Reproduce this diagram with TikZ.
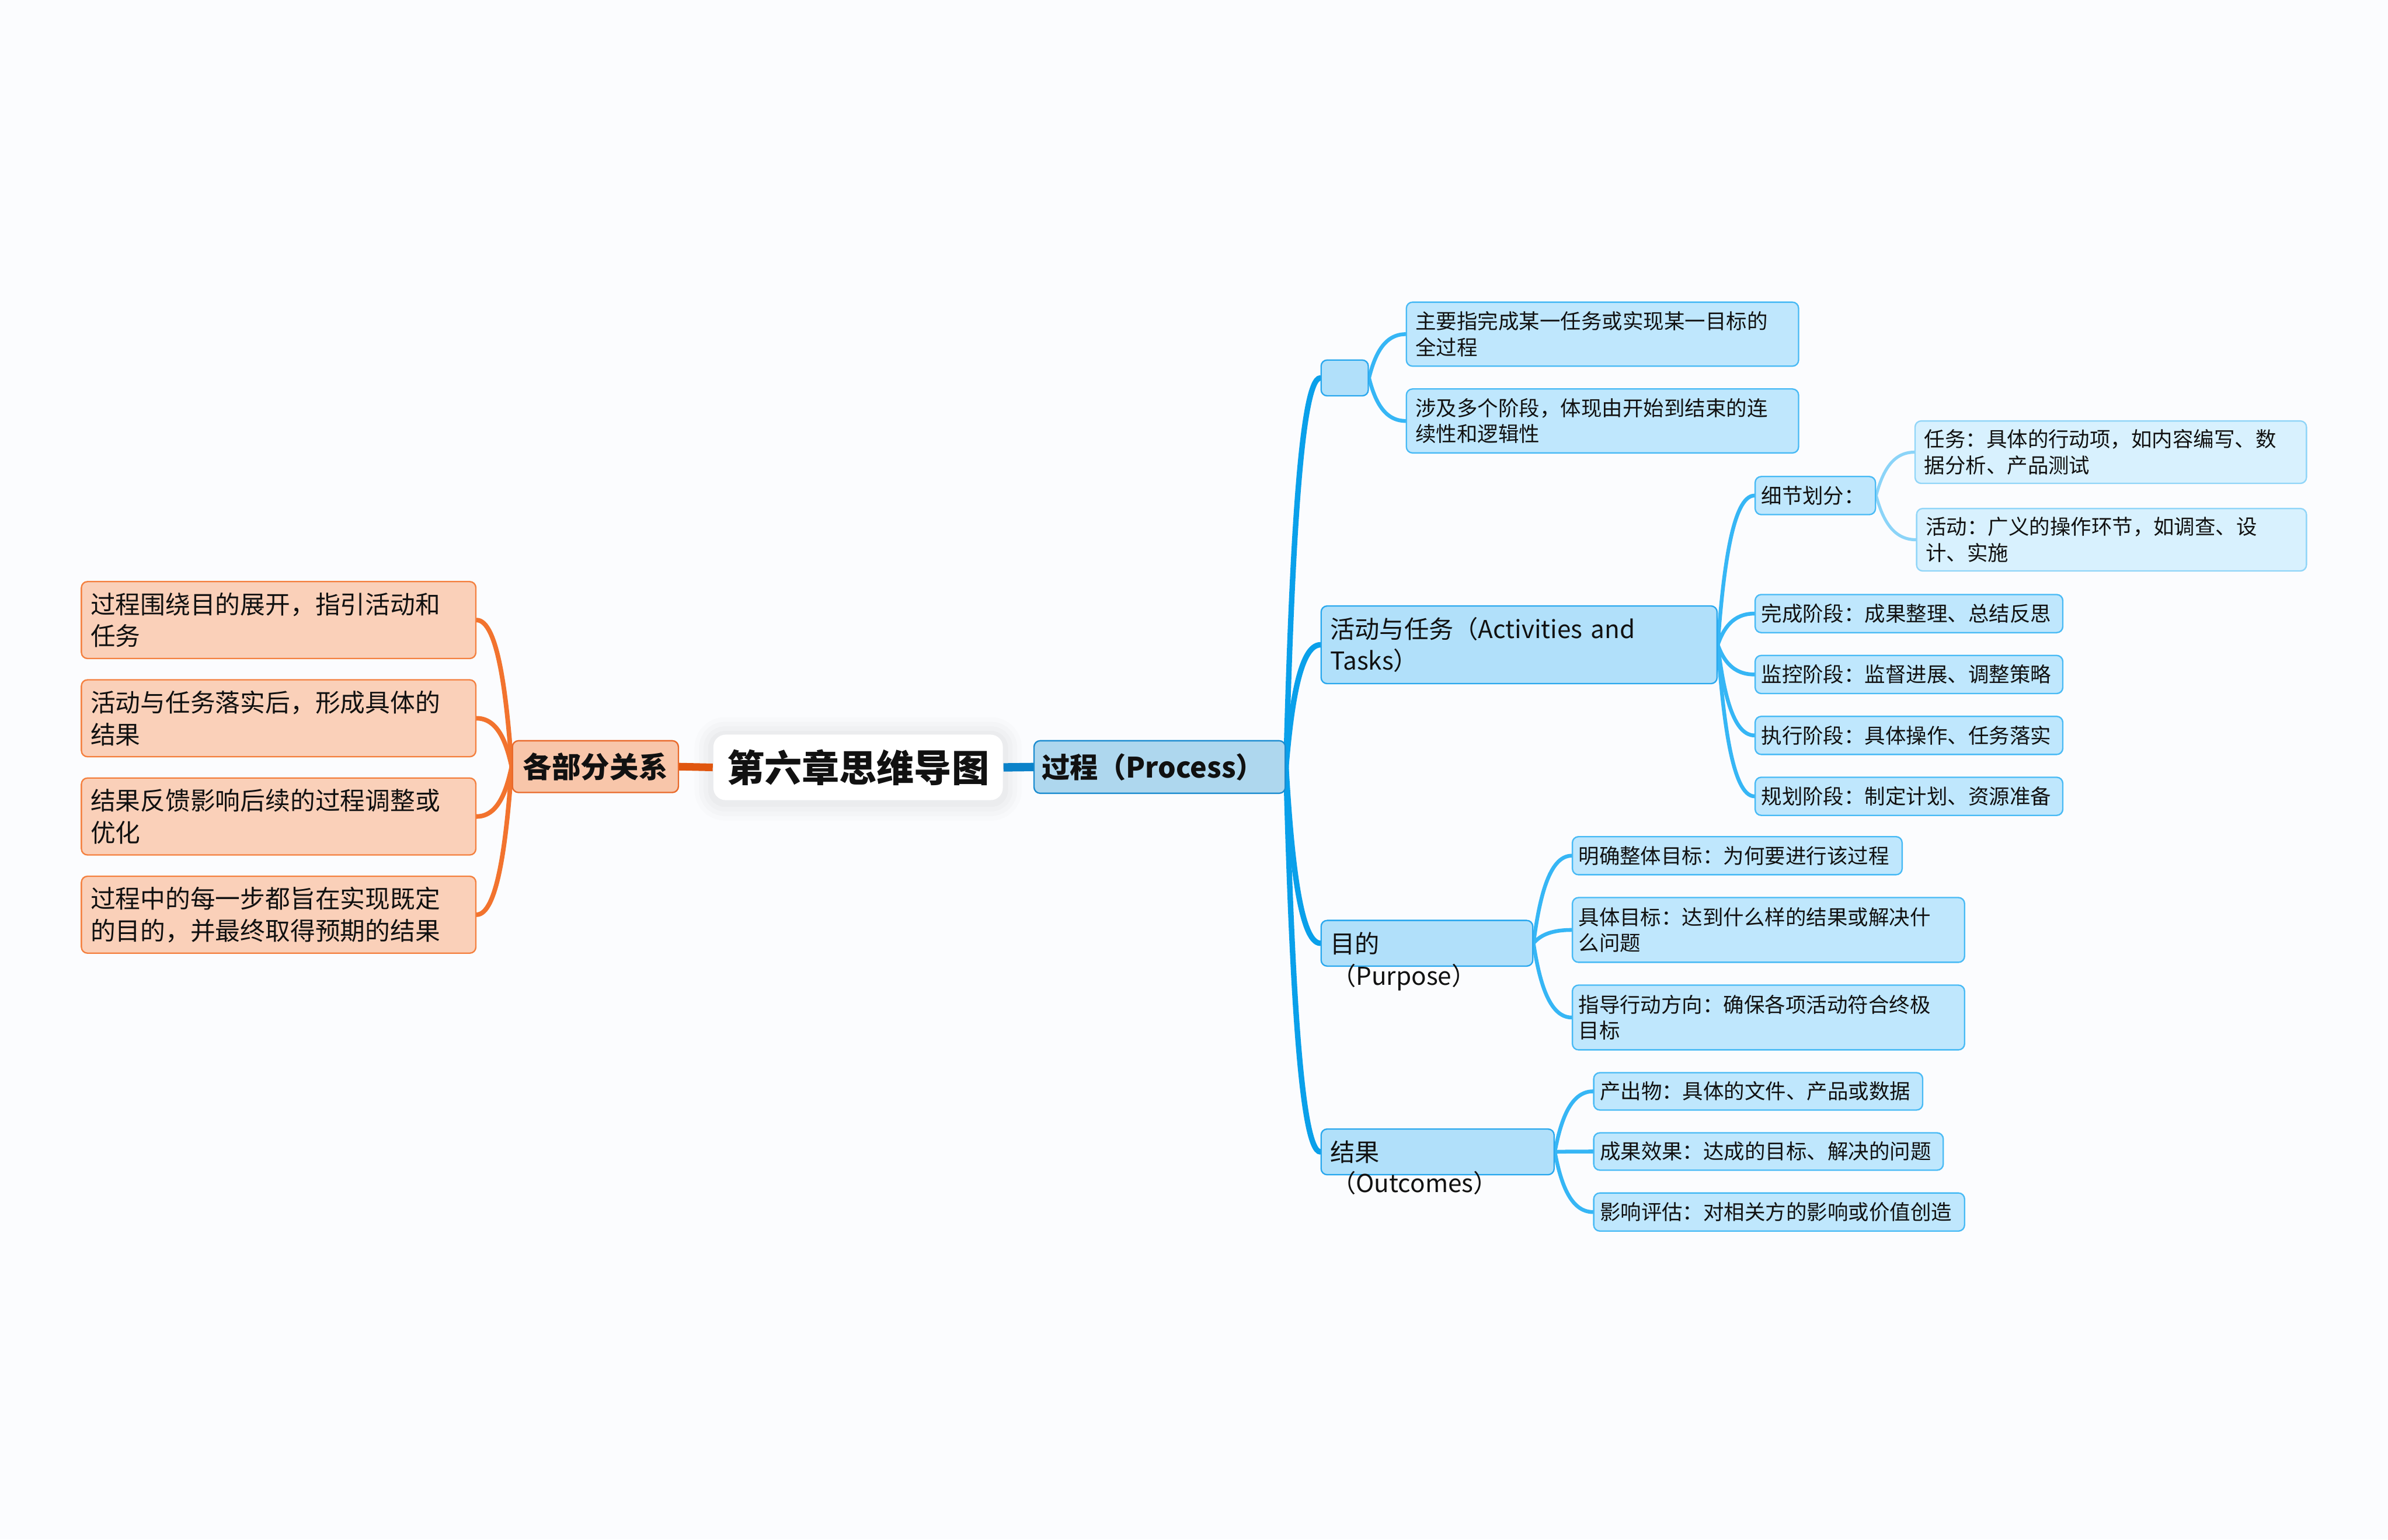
\documentclass[tikz,border=0pt]{standalone}
\usepackage{fontspec}
\setmainfont{Noto Sans CJK SC}
\usetikzlibrary{calc}
\definecolor{bgc}{HTML}{FBFCFE}
\definecolor{txt}{HTML}{111111}
\definecolor{oFill}{HTML}{FAD0B9}
\definecolor{oBorder}{HTML}{F4803F}
\definecolor{oHubF}{HTML}{F8C6AA}
\definecolor{oHubB}{HTML}{E96A2B}
\definecolor{oLine}{HTML}{F2732E}
\definecolor{cLineL}{HTML}{E0560F}
\definecolor{cLineR}{HTML}{0B82C9}
\definecolor{pFill}{HTML}{AED7EE}
\definecolor{pBorder}{HTML}{1B8CD0}
\definecolor{trunk}{HTML}{0AA0EA}
\definecolor{lTwoF}{HTML}{B1E0FA}
\definecolor{lTwoB}{HTML}{2AA8EE}
\definecolor{lTwoLine}{HTML}{36B6F5}
\definecolor{lThreeF}{HTML}{BFE7FD}
\definecolor{lThreeB}{HTML}{48BAF5}
\definecolor{lThreeLine}{HTML}{8BD4F8}
\definecolor{lFourF}{HTML}{D8F1FE}
\definecolor{lFourB}{HTML}{90D5F8}
\pgfdeclarelayer{back}
\pgfdeclarelayer{links}
\pgfsetlayers{back,links,main}
\newcommand\mmconn[3]{%
  \draw[#1] let \p1=(#2), \p2=(#3) in (\p1) .. controls ({\x1+0.15*(\x2-\x1)},{\y1+0.5*(\y2-\y1)}) and ({\x1+0.4*(\x2-\x1)},{\y2}) .. (\p2);}
\begin{document}
\begin{tikzpicture}[x=1pt,y=-1pt,
  boxbase/.style={anchor=north west, rounded corners=4pt, line width=0.9pt, inner ysep=0pt, align=left, text=txt},
  ob/.style={boxbase, draw=oBorder, fill=oFill, inner xsep=6pt, font=\fontsize{16.4}{21}\selectfont},
  ohub/.style={boxbase, draw=oHubB, fill=oHubF, inner xsep=5pt, align=center, font=\bfseries\fontsize{19}{22}\selectfont},
  ctrbox/.style={boxbase, draw=none, fill=white, rounded corners=8pt, inner xsep=4pt, align=center, font=\bfseries\fontsize{24.6}{28}\selectfont},
  softshadow/.style={fill=black, opacity=#1},
  procbox/.style={boxbase, draw=pBorder, fill=pFill, inner xsep=5pt, font=\bfseries\fontsize{18.5}{22}\selectfont},
  ltwo/.style={boxbase, draw=lTwoB, fill=lTwoF, inner xsep=6pt, font=\fontsize{16.2}{21}\selectfont},
  lthree/.style={boxbase, draw=lThreeB, fill=lThreeF, inner xsep=4pt, font=\fontsize{13.6}{17}\selectfont},
  lfour/.style={boxbase, draw=lFourB, fill=lFourF, inner xsep=6pt, font=\fontsize{13.6}{17}\selectfont},
  overtext/.style={anchor=base west, inner sep=0pt, text=txt, font=\fontsize{16.2}{21}\selectfont},
  lnL/.style={cLineL, line width=5pt},
  lnR/.style={cLineR, line width=5.5pt},
  lnO/.style={oLine, line width=3pt, line cap=round},
  lnT/.style={trunk, line width=3.6pt, line cap=round},
  lnTwo/.style={lTwoLine, line width=2.5pt, line cap=round},
  lnThree/.style={lThreeLine, line width=2pt, line cap=round}
]
\begin{pgfonlayer}{back}
\path[use as bounding box, fill=bgc] (0,0) rectangle (1568,1011);
\end{pgfonlayer}

% centre
\node[ctrbox, minimum width=190pt, text width=182pt, minimum height=43pt] (ctr) at (468,482) {第六章思维导图};
\begin{pgfonlayer}{back}
\foreach \d/\o in {12/0.012, 9/0.014, 6/0.016, 3/0.02}{
  \fill[softshadow=\o, rounded corners={8pt+\d pt}] ($(ctr.north west)+(-\d,-\d+1)$) rectangle ($(ctr.south east)+(\d,\d+1)$);
}
\end{pgfonlayer}

% left side
\node[ohub, minimum width=109pt, text width=99pt, minimum height=34pt] (rel) at (336,486) {各部分关系};
\node[ob, minimum width=259pt, text width=247pt, minimum height=50.5pt] (r1) at (53,381.5) {过程围绕目的展开，指引活动和\\任务};
\node[ob, minimum width=259pt, text width=247pt, minimum height=50.5pt] (r2) at (53,446) {活动与任务落实后，形成具体的\\结果};
\node[ob, minimum width=259pt, text width=247pt, minimum height=50.5pt] (r3) at (53,510.5) {结果反馈影响后续的过程调整或\\优化};
\node[ob, minimum width=259pt, text width=247pt, minimum height=50.5pt] (r4) at (53,575) {过程中的每一步都旨在实现既定\\的目的，并最终取得预期的结果};

% right side
\node[procbox, minimum width=165pt, text width=155pt, minimum height=34.5pt] (proc) at (678.5,486) {过程（Process）};

\node[ltwo, minimum width=31pt, text width=19pt, minimum height=23.5pt] (nz) at (867,236) {};
\node[ltwo, minimum width=260pt, text width=248pt, minimum height=51pt] (act) at (867,397.5) {活动与任务（Activities and\\Tasks）};
\node[ltwo, minimum width=139pt, text width=127pt, minimum height=30pt] (pur) at (867,604) {目的};
\node[overtext] (purl) at (874,646.8) {（Purpose）};
\node[ltwo, minimum width=153pt, text width=141pt, minimum height=30pt] (outc) at (867,741) {结果};
\node[overtext] (outl) at (874,783) {（Outcomes）};

\node[lthree, inner xsep=6pt, minimum width=257.5pt, text width=245.5pt, minimum height=42pt] (c1) at (923,198) {主要指完成某一任务或实现某一目标的\\全过程};
\node[lthree, inner xsep=6pt, minimum width=257.5pt, text width=245.5pt, minimum height=42pt] (c2) at (923,255) {涉及多个阶段，体现由开始到结束的连\\续性和逻辑性};

\node[lthree, minimum width=79pt, text width=71pt, minimum height=25pt] (dd) at (1152,312.5) {细节划分：};
\node[lthree, minimum width=202pt, text width=194pt, minimum height=25pt] (a1) at (1152,390) {完成阶段：成果整理、总结反思};
\node[lthree, minimum width=202pt, text width=194pt, minimum height=25pt] (a2) at (1152,430) {监控阶段：监督进展、调整策略};
\node[lthree, minimum width=202pt, text width=194pt, minimum height=25pt] (a3) at (1152,470) {执行阶段：具体操作、任务落实};
\node[lthree, minimum width=202pt, text width=194pt, minimum height=25pt] (a4) at (1152,510) {规划阶段：制定计划、资源准备};

\node[lfour, minimum width=257pt, text width=245pt, minimum height=41pt] (t1) at (1257,276) {任务：具体的行动项，如内容编写、数\\据分析、产品测试};
\node[lfour, minimum width=256pt, text width=244pt, minimum height=41pt] (t2) at (1258,333.5) {活动：广义的操作环节，如调查、设\\计、实施};

\node[lthree, minimum width=216.5pt, text width=208.5pt, minimum height=25pt] (p1) at (1032,549) {明确整体目标：为何要进行该过程};
\node[lthree, minimum width=257.5pt, text width=249.5pt, minimum height=42.5pt] (p2) at (1032,589) {具体目标：达到什么样的结果或解决什\\么问题};
\node[lthree, minimum width=257.5pt, text width=249.5pt, minimum height=42.5pt] (p3) at (1032,646.5) {指导行动方向：确保各项活动符合终极\\目标};

\node[lthree, minimum width=216pt, text width=208pt, minimum height=24.5pt] (o1) at (1046,704) {产出物：具体的文件、产品或数据};
\node[lthree, minimum width=229.5pt, text width=221.5pt, minimum height=24.5pt] (o2) at (1046,743.5) {成果效果：达成的目标、解决的问题};
\node[lthree, minimum width=243.5pt, text width=235.5pt, minimum height=25pt] (o3) at (1046,783) {影响评估：对相关方的影响或价值创造};

\begin{pgfonlayer}{links}
\draw[lnL] (ctr.west) -- (rel.east);
\draw[lnR] (ctr.east) -- (proc.west);
\mmconn{lnO}{rel.west}{r1.east}
\mmconn{lnO}{rel.west}{r2.east}
\mmconn{lnO}{rel.west}{r3.east}
\mmconn{lnO}{rel.west}{r4.east}
\mmconn{lnT}{proc.east}{nz.west}
\mmconn{lnT}{proc.east}{act.west}
\mmconn{lnT}{proc.east}{pur.west}
\mmconn{lnT}{proc.east}{outc.west}
\mmconn{lnTwo}{nz.east}{c1.west}
\mmconn{lnTwo}{nz.east}{c2.west}
\mmconn{lnTwo}{act.east}{dd.west}
\mmconn{lnTwo}{act.east}{a1.west}
\mmconn{lnTwo}{act.east}{a2.west}
\mmconn{lnTwo}{act.east}{a3.west}
\mmconn{lnTwo}{act.east}{a4.west}
\mmconn{lnThree}{dd.east}{t1.west}
\mmconn{lnThree}{dd.east}{t2.west}
\mmconn{lnTwo}{pur.east}{p1.west}
\mmconn{lnTwo}{pur.east}{p2.west}
\mmconn{lnTwo}{pur.east}{p3.west}
\mmconn{lnTwo}{outc.east}{o1.west}
\mmconn{lnTwo}{outc.east}{o2.west}
\mmconn{lnTwo}{outc.east}{o3.west}
\end{pgfonlayer}
\end{tikzpicture}
\end{document}
